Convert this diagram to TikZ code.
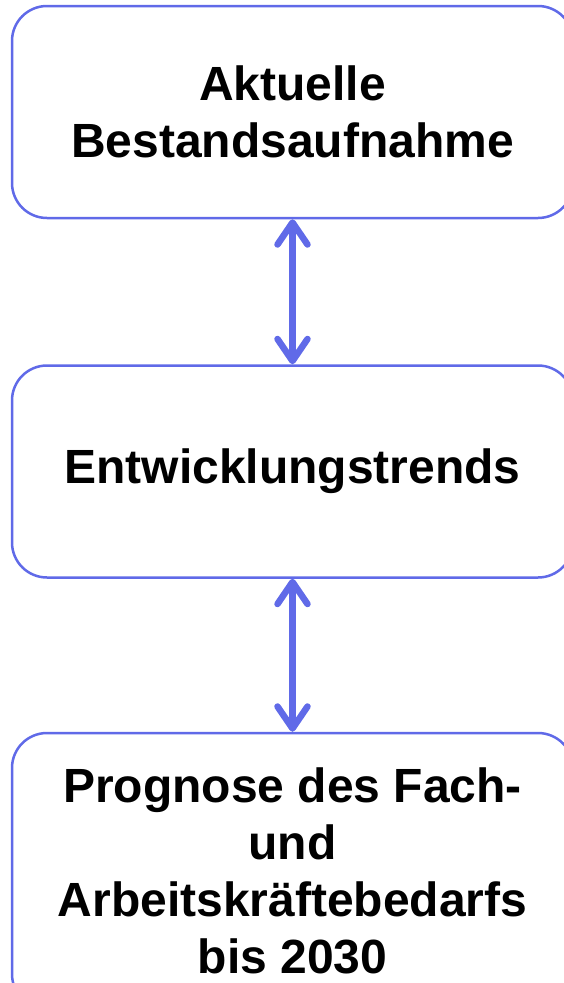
\documentclass[tikz,border=0pt]{standalone}
\usepackage{fontspec}
\setmainfont{Liberation Sans}
\usetikzlibrary{positioning}
\usetikzlibrary{arrows.meta}
\definecolor{boxblue}{RGB}{96,106,232}
\tikzset{stage node/.style={rectangle,draw=boxblue,line width=2.5pt,rounded corners=35pt,minimum width=561pt,minimum height=212pt,align=center,inner sep=0pt,font=\fontsize{48}{57}\selectfont\bfseries},}

\begin{document}
\begin{tikzpicture}[x=1pt,y=1pt]
   \useasboundingbox (0,0) rectangle (563,-983);
   \node[stage node] (b1) at (292.5,-112) {Aktuelle\\Bestandsaufnahme};
   \node[stage node] (b2) [below = 145pt of b1] {Entwicklungstrends};
   \node[stage node, minimum height=276pt] (b3) [below = 153pt of b2] {Prognose des Fach-\\und\\Arbeitskräftebedarfs\\bis 2030};

   \path[{Straight Barb[length=22pt,width=30pt,round]}-{Straight Barb[length=22pt,width=30pt,round]},draw=boxblue,line width=6.5pt]
   (b1) edge node {} (b2)
   (b2) edge node {} (b3);
\end{tikzpicture}
\end{document}
